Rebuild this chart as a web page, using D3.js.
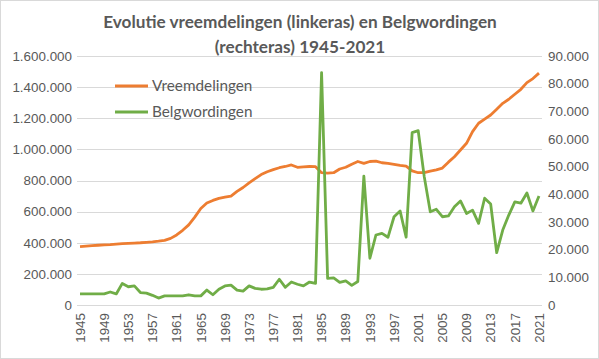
<!DOCTYPE html>
<html>
<head>
<meta charset="utf-8">
<script src="https://cdn.jsdelivr.net/npm/d3@7"></script>
<style>
  body { margin: 0; background: #fff; }
  svg { display: block; font-family: Lato, "Open Sans", sans-serif; }
  .tick-label { fill: #595959; font-size: 13.4px; }
  .title { fill: #595959; font-size: 17.2px; font-weight: bold; }
  .legend { fill: #595959; font-size: 15.3px; }
</style>
</head>
<body>
<div id="chart"></div>
<script>
// years 1945 - 2021
var years = d3.range(1945, 2022);

// Vreemdelingen (linkeras)
var vreemdelingen = [
  375000, 378000, 381000, 384000, 386000, 388000, 391000, 394000, 396000, 398000,
  400000, 403000, 406000, 410000, 415000, 428000, 450000, 480000, 515000, 565000,
  620000, 655000, 672000, 685000, 693000, 700000, 730000, 755000, 785000, 812000,
  838000, 856000, 870000, 882000, 890000, 900000, 885000, 888000, 890000, 889000,
  850000, 848000, 850000, 874000, 885000, 905000, 922000, 910000, 922000, 925000,
  914000, 910000, 904000, 897000, 892000, 862000, 850000, 850000, 860000, 868000,
  880000, 918000, 953000, 996000, 1039000, 1114000, 1168000, 1195000, 1221000, 1258000,
  1296000, 1322000, 1354000, 1386000, 1429000, 1455000, 1490000
];

// Belgwordingen (rechteras)
var belgwordingen = [
  4000, 4000, 4000, 4000, 4000, 4700, 4000, 7800, 6600, 6900,
  4500, 4300, 3500, 2500, 3300, 3300, 3300, 3300, 3700, 3300,
  3300, 5400, 3700, 5700, 6900, 7200, 5400, 5000, 6900, 6000,
  5700, 5800, 6400, 9300, 6400, 8300, 7500, 6900, 8300, 7800,
  84000, 9600, 9800, 8200, 8700, 7100, 8500, 46600, 16900, 25300,
  25900, 24500, 31900, 34000, 24500, 62300, 63000, 46400, 33700, 34600,
  31900, 32200, 35500, 37600, 33100, 34300, 29500, 38600, 36500, 18900,
  27100, 32500, 37300, 36800, 40500, 34000, 39400
];

var leftTicks = [0, 200000, 400000, 600000, 800000, 1000000, 1200000, 1400000, 1600000];
var rightTicks = [0, 10000, 20000, 30000, 40000, 50000, 60000, 70000, 80000, 90000];
var yearLabels = years.filter(function(d) { return (d - 1945) % 4 === 0; });

var width = 599, height = 359;
var margin = {top: 56, right: 57, bottom: 54, left: 77};

var fmt = function(d) { return d3.format(",")(d).replace(/,/g, "."); };

var svg = d3.select("#chart").append("svg")
    .attr("width", width)
    .attr("height", height);

svg.append("rect")
    .attr("x", 0.5).attr("y", 0.5)
    .attr("width", width - 1).attr("height", height - 1)
    .attr("fill", "#fff")
    .attr("stroke", "#d9d9d9");

var x = d3.scaleBand()
    .domain(years)
    .range([margin.left, width - margin.right]);

var yLeft = d3.scaleLinear()
    .domain([0, 1600000])
    .range([height - margin.bottom, margin.top]);

var yRight = d3.scaleLinear()
    .domain([0, 90000])
    .range([height - margin.bottom, margin.top]);

var cx = function(d) { return x(d) + x.bandwidth() / 2; };

// gridlines
svg.append("g").selectAll("line")
    .data(leftTicks)
  .enter().append("line")
    .attr("x1", margin.left)
    .attr("x2", width - margin.right)
    .attr("y1", function(d) { return Math.round(yLeft(d)) + 0.5; })
    .attr("y2", function(d) { return Math.round(yLeft(d)) + 0.5; })
    .attr("stroke", "#d9d9d9")
    .attr("stroke-width", 1);

// left axis
var gl = svg.append("g")
    .attr("transform", "translate(" + (margin.left - 5) + ",0)")
    .call(d3.axisLeft(yLeft).tickValues(leftTicks).tickFormat(fmt).tickSize(0).tickPadding(0));
gl.select(".domain").remove();
gl.selectAll("text").attr("class", "tick-label").attr("font-family", null).attr("font-size", null);

// right axis
var gr = svg.append("g")
    .attr("transform", "translate(" + (width - margin.right + 6) + ",0)")
    .call(d3.axisRight(yRight).tickValues(rightTicks).tickFormat(fmt).tickSize(0).tickPadding(0));
gr.select(".domain").remove();
gr.selectAll("text").attr("class", "tick-label").attr("font-family", null).attr("font-size", null);

// x axis, rotated labels
var gx = svg.append("g")
    .attr("transform", "translate(0," + (height - margin.bottom) + ")")
    .call(d3.axisBottom(x).tickValues(yearLabels).tickSize(0).tickPadding(0));
gx.select(".domain").remove();
gx.selectAll("text")
    .attr("class", "tick-label")
    .attr("font-family", null).attr("font-size", null)
    .attr("transform", "rotate(-90)")
    .attr("x", -8)
    .attr("y", 0)
    .attr("dy", "0.35em")
    .style("text-anchor", "end");

// lines
var lineLeft = d3.line()
    .x(function(d, i) { return cx(years[i]); })
    .y(function(d) { return yLeft(d); });

var lineRight = d3.line()
    .x(function(d, i) { return cx(years[i]); })
    .y(function(d) { return yRight(d); });

svg.append("path")
    .datum(vreemdelingen)
    .attr("fill", "none")
    .attr("stroke", "#ed7d31")
    .attr("stroke-width", 2.8)
    .attr("stroke-linejoin", "round")
    .attr("d", lineLeft);

svg.append("path")
    .datum(belgwordingen)
    .attr("fill", "none")
    .attr("stroke", "#70ad47")
    .attr("stroke-width", 2.8)
    .attr("stroke-linejoin", "round")
    .attr("d", lineRight);

// title
var title = svg.append("text")
    .attr("class", "title")
    .attr("text-anchor", "middle");
title.append("tspan").attr("x", 300).attr("y", 28).text("Evolutie vreemdelingen (linkeras) en Belgwordingen");
title.append("tspan").attr("x", 300).attr("y", 53).text("(rechteras) 1945-2021");

// legend
var legendItems = [
  {name: "Vreemdelingen", color: "#ed7d31"},
  {name: "Belgwordingen", color: "#70ad47"}
];
var legend = svg.append("g").selectAll("g")
    .data(legendItems)
  .enter().append("g")
    .attr("transform", function(d, i) { return "translate(115," + (86 + i * 26) + ")"; });
legend.append("line")
    .attr("x1", 0).attr("x2", 33)
    .attr("stroke", function(d) { return d.color; })
    .attr("stroke-width", 2.8);
legend.append("text")
    .attr("class", "legend")
    .attr("x", 37)
    .attr("dy", "0.35em")
    .text(function(d) { return d.name; });
</script>
</body>
</html>
